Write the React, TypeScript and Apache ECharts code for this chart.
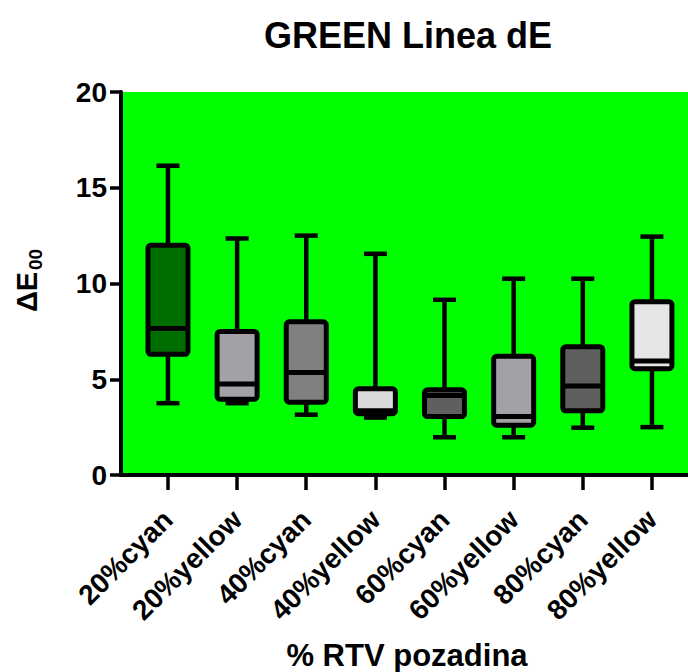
import React, { useEffect, useRef } from "react";
import * as echarts from "echarts";

const categories = ["20%cyan", "20%yellow", "40%cyan", "40%yellow", "60%cyan", "60%yellow", "80%cyan", "80%yellow"];
const whiskerMin = [3.75, 3.75, 3.15, 3.0, 1.97, 1.97, 2.47, 2.5];
const q1 = [6.3, 3.95, 3.8, 3.2, 3.05, 2.6, 3.35, 5.55];
const median = [7.65, 4.75, 5.35, 3.35, 4.15, 3.05, 4.65, 5.95];
const q3 = [12.0, 7.5, 8.0, 4.5, 4.45, 6.2, 6.7, 9.05];
const whiskerMax = [16.15, 12.35, 12.5, 11.55, 9.15, 10.25, 10.25, 12.45];
const boxColors = ["#006e00", "#a3a1a6", "#808080", "#d9d9d9", "#5f5f5f", "#a3a1a6", "#5f5f5f", "#e6e6e6"];
const yMin = 0;
const yMax = 20;
const yInterval = 5;

const FONT = "'Liberation Sans', Arial, sans-serif";

export default function App() {
  const ref = useRef<HTMLDivElement>(null);
  useEffect(() => {
    if (!ref.current) return;
    const chart = echarts.init(ref.current, undefined, { renderer: "svg" });
    const data = categories.map((c, i) => [i, whiskerMin[i], q1[i], median[i], q3[i], whiskerMax[i]]);
    const option: any = {
      animation: false,
      backgroundColor: "#ffffff",
      grid: [
        { left: 121, right: 0, top: 92, bottom: 197, show: true, backgroundColor: "#00ff00", borderWidth: 0 },
        { left: 133.4, right: 1.5, top: 92, bottom: 197 },
      ],
      xAxis: [
        {
          gridIndex: 0, type: "value", min: 0, max: 1,
          axisLine: { show: true, lineStyle: { color: "#000", width: 4 } },
          axisTick: { show: false }, axisLabel: { show: false }, splitLine: { show: false },
        },
        {
          gridIndex: 1, type: "category", data: categories, boundaryGap: true,
          axisLine: { show: false },
          axisTick: { show: true, alignWithLabel: true, length: 15, lineStyle: { color: "#000", width: 3.5 } },
          axisLabel: {
            rotate: 45, margin: 40, interval: 0,
            fontFamily: FONT, fontWeight: "bold", fontSize: 28, color: "#000",
          },
          splitLine: { show: false },
        },
      ],
      yAxis: [
        {
          gridIndex: 0, type: "value", min: yMin, max: yMax, interval: yInterval,
          axisLine: { show: true, lineStyle: { color: "#000", width: 4 } },
          axisTick: { show: true, length: 11, lineStyle: { color: "#000", width: 3.5 } },
          axisLabel: { margin: 14, fontFamily: FONT, fontWeight: "bold", fontSize: 28, color: "#000" },
          splitLine: { show: false },
        },
        {
          gridIndex: 1, type: "value", min: yMin, max: yMax, interval: yInterval, show: false,
        },
      ],
      series: [
        {
          type: "custom",
          xAxisIndex: 1,
          yAxisIndex: 1,
          data,
          encode: { x: 0, y: [1, 2, 3, 4, 5] },
          renderItem: (params: any, api: any) => {
            const i = api.value(0);
            const x = api.coord([i, 0])[0];
            const pMin = api.coord([i, api.value(1)])[1];
            const pQ1 = api.coord([i, api.value(2)])[1];
            const pMed = api.coord([i, api.value(3)])[1];
            const pQ3 = api.coord([i, api.value(4)])[1];
            const pMax = api.coord([i, api.value(5)])[1];
            const hb = 20;
            const hc = 11.5;
            const ls = { stroke: "#000", lineWidth: 4.5 };
            return {
              type: "group",
              children: [
                { type: "line", shape: { x1: x, y1: pMax, x2: x, y2: pMin }, style: ls },
                { type: "line", shape: { x1: x - hc, y1: pMax, x2: x + hc, y2: pMax }, style: ls },
                { type: "line", shape: { x1: x - hc, y1: pMin, x2: x + hc, y2: pMin }, style: ls },
                {
                  type: "rect",
                  shape: { x: x - hb, y: pQ3, width: 2 * hb, height: pQ1 - pQ3, r: 3 },
                  style: { fill: boxColors[i], stroke: "#000", lineWidth: 5 },
                },
                { type: "line", shape: { x1: x - hb, y1: pMed, x2: x + hb, y2: pMed }, style: { stroke: "#000", lineWidth: 5 } },
              ],
            };
          },
        },
      ],
      graphic: [
        {
          type: "text", x: 408, y: 35,
          style: { text: "GREEN Linea dE", font: `bold 36px ${FONT}`, fill: "#000", textAlign: "center", textVerticalAlign: "middle" },
        },
        {
          type: "text", x: 27, y: 292, rotation: Math.PI / 2,
          style: { text: "ΔE", font: `bold 29px ${FONT}`, fill: "#000", textAlign: "center", textVerticalAlign: "middle" },
        },
        {
          type: "text", x: 35, y: 259.5, rotation: Math.PI / 2,
          style: { text: "00", font: `bold 19px ${FONT}`, fill: "#000", textAlign: "center", textVerticalAlign: "middle" },
        },
        {
          type: "text", x: 407, y: 655,
          style: { text: "% RTV pozadina", font: `bold 31px ${FONT}`, fill: "#000", textAlign: "center", textVerticalAlign: "middle" },
        },
      ],
    };
    chart.setOption(option);
    return () => chart.dispose();
  }, []);
  return <div ref={ref} style={{ width: 688, height: 672, position: "absolute", left: 0, top: 0 }} />;
}
